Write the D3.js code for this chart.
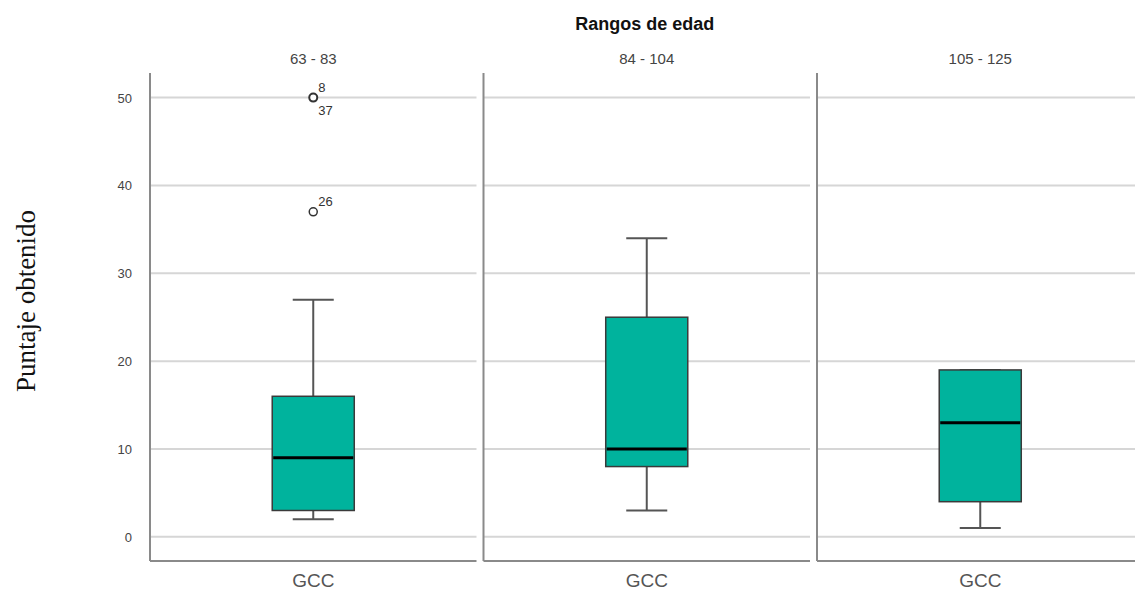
<!DOCTYPE html>
<html>
<head>
<meta charset="utf-8">
<script src="https://cdn.jsdelivr.net/npm/d3@7"></script>
<style>
  html, body { margin: 0; padding: 0; background: #fff; }
  svg { display: block; }
</style>
</head>
<body>
<svg id="chart" width="1135" height="595"></svg>
<script>
// Age-range panels and the single group shown in each
const panels = ["63 - 83", "84 - 104", "105 - 125"];
const groups = ["GCC"];

// Five-number summaries per panel
const whiskerLow  = [2, 3, 1];
const q1          = [3, 8, 4];
const median      = [9, 10, 13];
const q3          = [16, 25, 19];
const whiskerHigh = [27, 34, 19];

// Outlying cases: panel index, value, case labels
const outlierPanel  = [0, 0];
const outlierValue  = [50, 37];
const outlierLabels = [["8", "37"], ["26"]];

const yTicks = [0, 10, 20, 30, 40, 50];

const svg = d3.select("#chart");
const plotTop = 73, plotBottom = 561;

const y = d3.scaleLinear().domain([-2.75, 52.8]).range([plotBottom, plotTop]);

const panelX = d3.scaleBand()
  .domain(panels)
  .range([150, 1143.5])
  .paddingInner(0.021);

const inner = d3.scaleBand()
  .domain(groups)
  .range([0, panelX.bandwidth()])
  .paddingInner(0)
  .paddingOuter(1.49);

const boxColor = "#00b39d";
const sans = "Liberation Sans, Arial, sans-serif";

// Overall title
svg.append("text")
  .attr("x", panelX(panels[1]) + panelX.bandwidth() / 2 - 2)
  .attr("y", 30)
  .attr("text-anchor", "middle")
  .attr("font-family", sans)
  .attr("font-size", 18)
  .attr("font-weight", "bold")
  .attr("fill", "#111")
  .text("Rangos de edad");

// Y axis title
svg.append("text")
  .attr("transform", `translate(35,301) rotate(-90)`)
  .attr("text-anchor", "middle")
  .attr("font-family", "Liberation Serif, Times New Roman, serif")
  .attr("font-size", 27)
  .attr("fill", "#111")
  .text("Puntaje obtenido");

// Y tick labels (left panel only)
svg.append("g")
  .selectAll("text")
  .data(yTicks)
  .join("text")
  .attr("x", 132)
  .attr("y", d => y(d) + 5)
  .attr("text-anchor", "end")
  .attr("font-family", sans)
  .attr("font-size", 13)
  .attr("fill", "#444")
  .text(d => d);

panels.forEach((p, i) => {
  const x0 = panelX(p);
  const w = panelX.bandwidth();
  const g = svg.append("g").attr("transform", `translate(${x0},0)`);

  // Panel header
  g.append("text")
    .attr("x", w / 2)
    .attr("y", 64)
    .attr("text-anchor", "middle")
    .attr("font-family", sans)
    .attr("font-size", 15)
    .attr("fill", "#444")
    .text(p);

  // Grid lines
  g.append("g")
    .selectAll("line")
    .data(yTicks)
    .join("line")
    .attr("x1", 0)
    .attr("x2", w)
    .attr("y1", d => y(d))
    .attr("y2", d => y(d))
    .attr("stroke", "#d6d6d6")
    .attr("stroke-width", 2);

  // Panel axes
  g.append("line")
    .attr("x1", 0).attr("x2", 0)
    .attr("y1", plotTop).attr("y2", plotBottom)
    .attr("stroke", "#8a8a8a").attr("stroke-width", 2);
  g.append("line")
    .attr("x1", 0).attr("x2", w)
    .attr("y1", plotBottom).attr("y2", plotBottom)
    .attr("stroke", "#8a8a8a").attr("stroke-width", 2);

  groups.forEach(gr => {
    const bx = inner(gr);
    const bw = inner.bandwidth();
    const cx = bx + bw / 2;
    const capW = bw * 0.5;

    // Whisker stems
    g.append("line")
      .attr("x1", cx).attr("x2", cx)
      .attr("y1", y(whiskerHigh[i])).attr("y2", y(q3[i]))
      .attr("stroke", "#555").attr("stroke-width", 2);
    g.append("line")
      .attr("x1", cx).attr("x2", cx)
      .attr("y1", y(q1[i])).attr("y2", y(whiskerLow[i]))
      .attr("stroke", "#555").attr("stroke-width", 2);
    // Whisker caps
    [whiskerHigh[i], whiskerLow[i]].forEach(v => {
      g.append("line")
        .attr("x1", cx - capW / 2).attr("x2", cx + capW / 2)
        .attr("y1", y(v)).attr("y2", y(v))
        .attr("stroke", "#555").attr("stroke-width", 2);
    });

    // Box
    g.append("rect")
      .attr("x", bx)
      .attr("y", y(q3[i]))
      .attr("width", bw)
      .attr("height", y(q1[i]) - y(q3[i]))
      .attr("fill", boxColor)
      .attr("stroke", "#3a3a3a")
      .attr("stroke-width", 1.5);

    // Median
    g.append("line")
      .attr("x1", bx + 1).attr("x2", bx + bw - 1)
      .attr("y1", y(median[i])).attr("y2", y(median[i]))
      .attr("stroke", "#000").attr("stroke-width", 3);

    // Outliers
    outlierValue.forEach((v, k) => {
      if (outlierPanel[k] !== i) return;
      g.append("circle")
        .attr("cx", cx).attr("cy", y(v)).attr("r", 4)
        .attr("fill", "#fff")
        .attr("stroke", "#333")
        .attr("stroke-width", outlierLabels[k].length > 1 ? 2 : 1.5);
      outlierLabels[k].forEach((lab, j) => {
        g.append("text")
          .attr("x", cx + 5)
          .attr("y", y(v) + (j === 0 ? -6 : 17))
          .attr("font-family", sans)
          .attr("font-size", 13)
          .attr("fill", "#333")
          .text(lab);
      });
    });

    // Group label
    g.append("text")
      .attr("x", cx)
      .attr("y", 587)
      .attr("text-anchor", "middle")
      .attr("font-family", sans)
      .attr("font-size", 19)
      .attr("fill", "#555")
      .text(gr);
  });
});
</script>
</body>
</html>
